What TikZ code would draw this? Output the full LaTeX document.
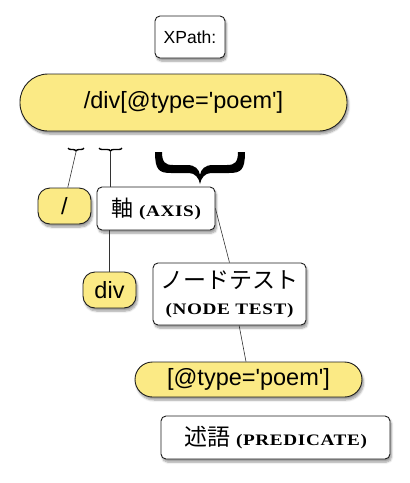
\documentclass[tikz,border=0pt]{standalone}
\usepackage{fontspec}
\setmainfont{Liberation Sans}
\newfontfamily\jpfont{Noto Sans CJK JP}
\newfontfamily\cpfont[FakeStretch=1.2,LetterSpace=4]{Liberation Serif}
\usetikzlibrary{shadows.blur,decorations.pathreplacing}
\definecolor{yel}{RGB}{251,234,133}
\definecolor{edge}{RGB}{30,30,30}
\newcommand{\cpx}[1]{{\cpfont\bfseries\fontsize{16}{17}\selectfont #1}}
\newcommand{\q}{\textquotesingle}
\tikzset{
  x=1pt,y=1pt,
  shad/.style={blur shadow={shadow xshift=1.5pt,shadow yshift=-3pt,shadow opacity=40,shadow blur steps=6}},
  whitebox/.style={draw=edge,line width=0.9pt,fill=white,rounded corners=5pt,inner sep=0pt,shad},
  yelpill/.style={draw=edge,line width=0.9pt,fill=yel,inner sep=0pt,shad},
  conn/.style={draw=black!80,line width=0.6pt},
  sanstext/.style={font=\fontsize{23.5}{26}\selectfont}
}
\begin{document}
\begin{tikzpicture}
\useasboundingbox (0,0) rectangle (410,-483);
% nodes
\node[whitebox,minimum width=70pt,minimum height=42pt,font=\fontsize{17.5}{20}\selectfont] (xp) at (190,-37) {XPath:};
\node[yelpill,rounded corners=28pt,minimum width=327pt,minimum height=57pt,sanstext] (main) at (183.5,-102.5) {/div[@type=\q poem\q]};
\node[yelpill,rounded corners=12pt,minimum width=53pt,minimum height=36pt,sanstext] (slash) at (64.5,-206) {/};
\node[whitebox,minimum width=118pt,minimum height=43pt] (axis) at (156,-208.5) {{\jpfont\fontsize{22}{24}\selectfont 軸}\hspace{6pt}\cpx{(AXIS)}};
\node[yelpill,rounded corners=12pt,minimum width=53pt,minimum height=36pt,sanstext] (div) at (109.5,-290) {div};
\node[whitebox,minimum width=153pt,minimum height=62pt,align=center] (nodetest) at (229.5,-294) {{\jpfont\fontsize{23}{25}\selectfont ノードテスト}\\[13pt]\cpx{(NODE TEST)}};
\node[yelpill,rounded corners=17.5pt,minimum width=227pt,minimum height=35pt,sanstext] (predel) at (248.5,-379.5) {[@type=\q poem\q]};
\node[whitebox,minimum width=229pt,minimum height=43pt] (predbox) at (275.5,-437.5) {{\jpfont\fontsize{23}{25}\selectfont 述語}\hspace{6pt}\cpx{(PREDICATE)}};
% braces
\draw[line width=1.4pt,decorate,decoration={brace,mirror,amplitude=3pt}] (68,-148) -- (84,-148);
\draw[line width=1.4pt,decorate,decoration={brace,mirror,amplitude=3pt}] (99,-148) -- (122,-148);
\coordinate (b1) at (76,-152);
\coordinate (b2) at (110,-152);
\fill[black,shift={(155,-152)}] (0,0) .. controls (0,-18) and (4,-21) .. (16,-21) -- (34,-21)
  .. controls (40,-21) and (44,-26) .. (45,-32) .. controls (46,-26) and (50,-21) .. (56,-21)
  -- (74,-21) .. controls (86,-21) and (90,-18) .. (90,0) -- (83,0)
  .. controls (83,-10) and (80,-13) .. (72,-13) -- (58,-13)
  .. controls (50,-13) and (46,-17) .. (45,-23) .. controls (44,-17) and (40,-13) .. (32,-13)
  -- (18,-13) .. controls (10,-13) and (7,-10) .. (7,0) -- cycle;
% connectors
\draw[conn] (b1) -- (slash.80);
\draw[conn] (b2) -- (b2 |- axis.north);
\draw[conn] (div.north) -- (div.north |- axis.south);
\draw[conn] (axis.east) -- (nodetest.north);
\draw[conn] (nodetest.-73) -- (predel.98);
\end{tikzpicture}
\end{document}
